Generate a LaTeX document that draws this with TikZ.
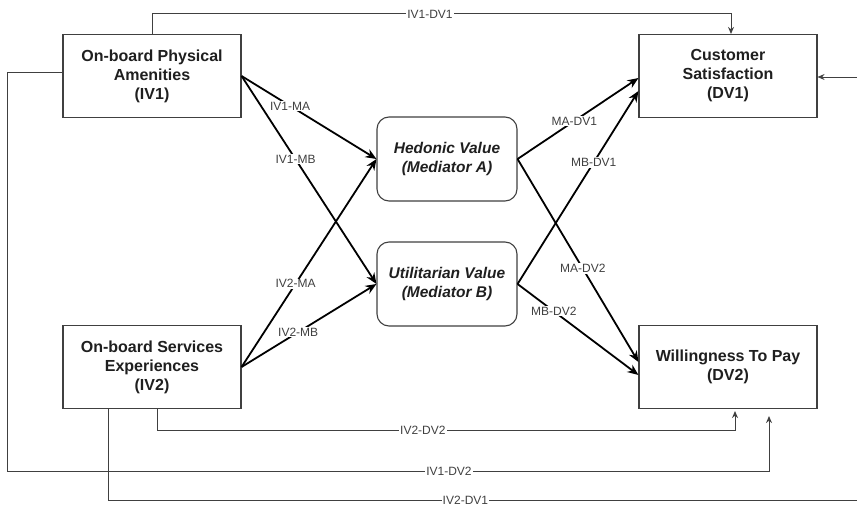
\documentclass[tikz,border=0pt]{standalone}
\usepackage{fontspec}
\setsansfont{Liberation Sans}
\usepackage{tikz}
\usetikzlibrary{arrows.meta}

\begin{document}
\begin{tikzpicture}[x=1pt,y=-1pt,
    var node/.style={rectangle,draw=black!75,line width=1.1pt,fill=white,minimum width=178pt,minimum height=83pt,
      align=center,inner sep=0pt,text=black!88,font=\sffamily\bfseries\fontsize{16}{19}\selectfont},
    med node/.style={var node,rounded corners=12pt,minimum width=140pt,minimum height=84pt,
      font=\sffamily\bfseries\itshape\fontsize{15.5}{18.5}\selectfont},
    main edge/.style={-{Stealth[length=11pt,width=9pt]},line width=1.8pt,black},
    side edge/.style={-{Stealth[length=7pt,width=6pt]},line width=0.9pt,black!75},
    edge label/.style={fill=white,inner sep=1pt,text=black!75,font=\sffamily\fontsize{12}{12}\selectfont}]

\useasboundingbox (0,0) rectangle (857,508);

\node[var node] (IV1) at (152,76) {On-board Physical\\Amenities\\(IV1)};
\node[var node] (IV2) at (152,367) {On-board Services\\Experiences\\(IV2)};
\node[med node] (MA) at (447,159) {Hedonic Value\\(Mediator A)};
\node[med node] (MB) at (447,284) {Utilitarian Value\\(Mediator B)};
\node[var node] (DV1) at (728,76) {Customer\\Satisfaction\\(DV1)};
\node[var node] (DV2) at (728,367) {Willingness To Pay\\(DV2)};

% independent -> mediators
\draw[main edge] (IV1.east) -- node[edge label,pos=0.36] {IV1-MA} (MA.west);
\draw[main edge] (IV1.east) -- node[edge label,pos=0.40] {IV1-MB} (MB.west);
\draw[main edge] (IV2.east) -- node[edge label,pos=0.40] {IV2-MA} (MA.west);
\draw[main edge] (IV2.east) -- node[edge label,pos=0.42] {IV2-MB} (MB.west);

% mediators -> dependent
\draw[main edge] (MA.east) -- node[edge label,pos=0.47] {MA-DV1} ([yshift=-2pt]DV1.west);
\draw[main edge] (MB.east) -- node[edge label,pos=0.63] {MB-DV1} ([yshift=-15pt]DV1.west);
\draw[main edge] (MA.east) -- node[edge label,pos=0.54] {MA-DV2} ([yshift=5pt]DV2.west);
\draw[main edge] (MB.east) -- node[edge label,pos=0.30] {MB-DV2} ([yshift=-8pt]DV2.west);

% direct paths
\draw[side edge] (IV1.north) -- ++(0,-20) -| node[edge label,pos=0.24] {IV1-DV1} ([xshift=3pt]DV1.north);
\draw[side edge,shorten >=7pt] ([yshift=4pt]IV1.west) -| (7,471) -| node[edge label,pos=0.29] {IV1-DV2} ([xshift=41pt]DV2.south);
\draw[side edge,shorten >=2pt] ([xshift=5pt]IV2.south) -- ++(0,21) -| node[edge label,pos=0.23] {IV2-DV2} ([xshift=7pt]DV2.south);
\draw[side edge] ([xshift=-44pt]IV2.south) |- node[edge label,pos=0.73] {IV2-DV1} (885,500) |- ([yshift=-1pt]DV1.east);

\end{tikzpicture}
\end{document}
